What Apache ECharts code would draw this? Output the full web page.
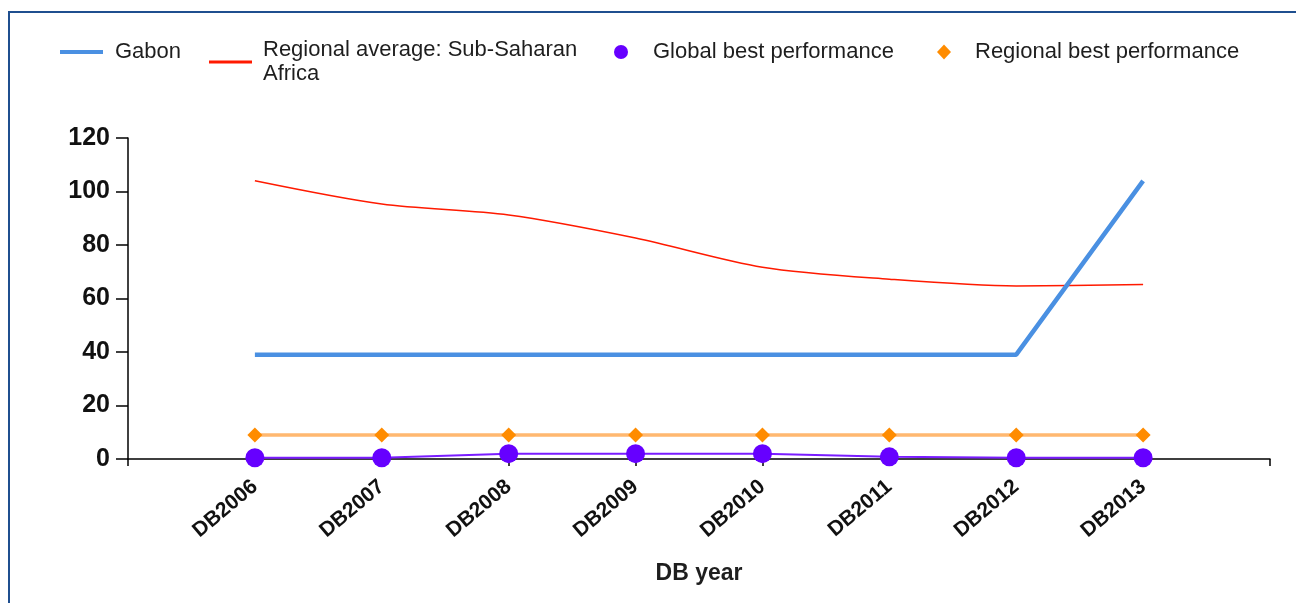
<!DOCTYPE html>
<html><head><meta charset="utf-8">
<script src="https://cdn.jsdelivr.net/npm/echarts@6/dist/echarts.min.js"></script>
<style>
html,body{margin:0;padding:0;background:#fff;overflow:hidden;}
#frame{position:absolute;left:8px;top:11px;width:1400px;height:700px;border-left:2px solid #1f4f8f;border-top:2px solid #1f4f8f;}
#chart{position:absolute;left:0;top:0;width:1296px;height:603px;}
</style></head>
<body>
<div id="frame"></div>
<div id="chart"></div>
<script>
const categories = ['DB2006','DB2007','DB2008','DB2009','DB2010','DB2011','DB2012','DB2013'];
const gabon = [39,39,39,39,39,39,39,104];
const regionalAvg = [104,95.3,91.2,82.6,71.7,67.2,64.7,65.2];
const globalBest = [0.5,0.5,2,2,2,0.8,0.5,0.5];
const regionalBest = [9,9,9,9,9,9,9,9];
const yTicks = [0,20,40,60,80,100,120];
const seriesNames = ['Gabon','Regional average: Sub-Saharan\nAfrica','Global best performance','Regional best performance'];

const pts = arr => arr.map((v,i)=>[i+1,v]);
const chart = echarts.init(document.getElementById('chart'));
const FONT = 'Liberation Sans';
function leg(name, left, top, icon, w, h, pad, color){
  return {
    show:true, left:left, top:top, padding:0, selectedMode:false,
    itemWidth:w, itemHeight:h, icon:icon,
    textStyle:{fontFamily:FONT,fontSize:22,lineHeight:24,color:'#1e1e1e',padding:[0,0,0,pad]},
    data:[{name:name,itemStyle:{color:color}}]
  };
}
chart.setOption({
  animation:false,
  grid:{left:128,right:26,top:138,bottom:144,containLabel:false},
  legend:[
    leg(seriesNames[0],60,40,'rect',43,4,7,'#4a90e2'),
    leg(seriesNames[1],209,38,'rect',43,3,6,'#ff1a00'),
    leg(seriesNames[2],614,40,'circle',14,14,20,'#6600ff'),
    leg(seriesNames[3],937,40,'diamond',14,15,19,'#ff8c00')
  ],
  xAxis:{
    type:'value',min:0,max:categories.length+1,interval:1,
    axisLine:{lineStyle:{color:'#000',width:1.5}},
    axisTick:{show:true,length:7,lineStyle:{color:'#000',width:1.5}},
    splitLine:{show:false},
    axisLabel:{rotate:40,margin:25,fontFamily:FONT,fontWeight:'bold',fontSize:21,color:'#111',
      formatter:v=>categories[v-1]||''},
    name:'DB year',nameLocation:'middle',nameGap:103,
    nameTextStyle:{fontFamily:FONT,fontWeight:'bold',fontSize:23,color:'#1e1e1e'}
  },
  yAxis:{
    type:'value',min:0,max:120,interval:20,
    axisLine:{show:true,lineStyle:{color:'#000',width:1.5}},
    axisTick:{show:true,length:12,lineStyle:{color:'#000',width:1.5}},
    splitLine:{show:false},
    axisLabel:{margin:18,fontFamily:FONT,fontWeight:'bold',fontSize:25,color:'#111',
      formatter:v=>yTicks.includes(v)?String(v):''}
  },
  series:[
    {name:seriesNames[0],type:'line',data:pts(gabon),symbol:'none',
      lineStyle:{color:'#4a90e2',width:4.5},itemStyle:{color:'#4a90e2'},z:3},
    {name:seriesNames[1],type:'line',data:pts(regionalAvg),symbol:'none',smooth:0.3,
      lineStyle:{color:'#ff1a00',width:1.5},itemStyle:{color:'#ff1a00'},z:2},
    {name:seriesNames[2],type:'line',data:pts(globalBest),symbol:'circle',symbolSize:19,
      lineStyle:{color:'#7a1cff',width:2},itemStyle:{color:'#6600ff'},z:5},
    {name:seriesNames[3],type:'line',data:pts(regionalBest),symbol:'diamond',symbolSize:15,
      lineStyle:{color:'#ffb870',width:3.5},itemStyle:{color:'#ff8c00'},z:4}
  ]
});
</script>
</body></html>
